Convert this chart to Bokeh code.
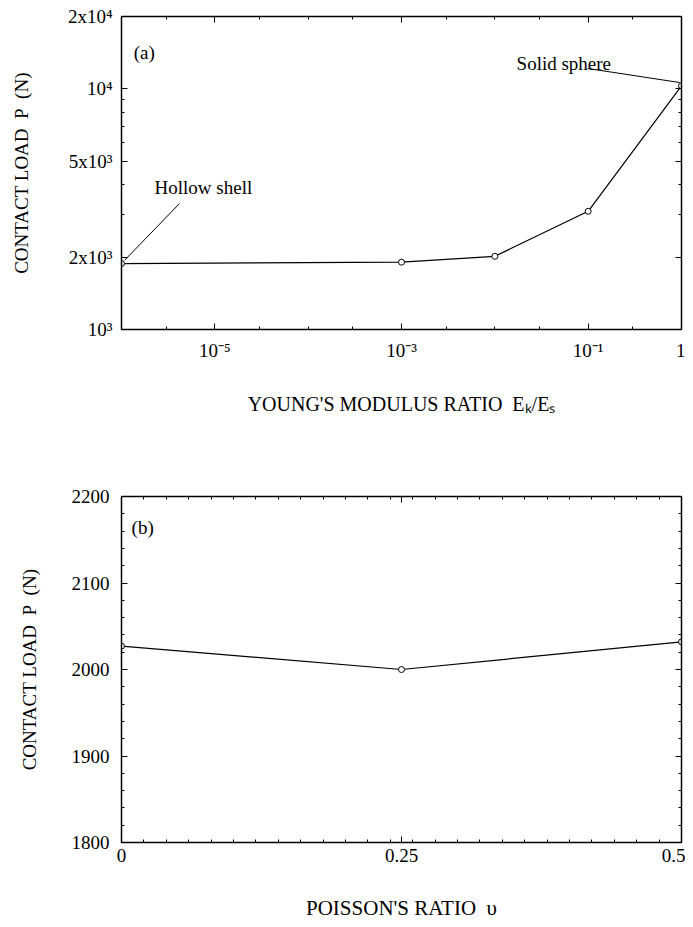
from bokeh.plotting import figure
from bokeh.models import FixedTicker, LogAxis, LinearAxis, Label, Range1d, ColumnDataSource
from bokeh.layouts import column
from bokeh.embed import file_html
from bokeh.resources import INLINE

FONT = "Liberation Serif"
NB = "\u00a0"

# ---- Panel (a) data ----
e_ratio = [1e-6, 1e-3, 1e-2, 1e-1, 1.0]
load_a = [1880, 1905, 2015, 3100, 10300]
xticks_a = [1e-5, 1e-3, 1e-1, 1.0]
xlabels_a = ["10⁻⁵", "10⁻³", "10⁻¹", "1"]
xminor_a = [1e-6, 1e-4, 1e-2, 3e-6, 3e-5, 3e-4, 3e-3, 3e-2, 3e-1]
yticks_a = [1e3, 2e3, 5e3, 1e4, 2e4]
ylabels_a = ["10³", "2x10³", "5x10³", "10⁴", "2x10⁴"]
yminor_a = [3e3, 4e3, 6e3, 7e3, 8e3, 9e3]

# ---- Panel (b) data ----
nu = [0.0, 0.25, 0.5]
load_b = [2027, 2000, 2032]
xticks_b = [0.0, 0.25, 0.5]
xlabels_b = ["0", "0.25", "0.5"]
yticks_b = [1800, 1900, 2000, 2100, 2200]
ylabels_b = ["1800", "1900", "2000", "2100", "2200"]


def style_axis(ax, labels=True):
    ax.axis_line_color = "black"
    ax.axis_line_width = 1.5
    ax.major_tick_line_color = "black"
    ax.minor_tick_line_color = "black"
    ax.major_tick_in = 6
    ax.major_tick_out = 0
    ax.minor_tick_in = 3
    ax.minor_tick_out = 0
    ax.major_label_text_font = FONT
    ax.axis_label_text_font = FONT
    ax.axis_label_text_font_style = "normal"
    ax.axis_label_text_color = "black"
    ax.axis_label_text_font_size = "19px"
    if labels:
        ax.major_label_text_font_size = "19px"
        ax.major_label_text_color = "black"
    else:
        ax.major_label_text_font_size = "2px"
        ax.major_label_text_color = None
        ax.major_label_standoff = 0


def txt(p, x, y, s, size="19px", align="left"):
    p.add_layout(Label(x=x, y=y, text=s, text_font=FONT, text_font_size=size,
                       text_color="black", text_baseline="middle", text_align=align))


# ---------------- Figure (a) ----------------
p1 = figure(frame_width=560, frame_height=313,
            x_axis_type="log", y_axis_type="log",
            x_range=Range1d(1e-6, 1.0), y_range=Range1d(1e3, 2e4),
            output_backend="svg", toolbar_location=None,
            min_border_left=121, min_border_top=16, min_border_right=4,
            min_border_bottom=86)
p1.grid.visible = False
p1.outline_line_color = None

p1.xaxis.ticker = FixedTicker(ticks=xticks_a, minor_ticks=xminor_a)
p1.yaxis.ticker = FixedTicker(ticks=yticks_a, minor_ticks=yminor_a)
p1.xaxis.major_label_overrides = {t: l for t, l in zip(xticks_a, xlabels_a)}
p1.yaxis.major_label_overrides = {t: l for t, l in zip(yticks_a, ylabels_a)}
p1.xaxis.axis_label = "YOUNG'S MODULUS RATIO" + NB + NB + "Eₖ/Eₛ"
p1.yaxis.axis_label = "CONTACT LOAD" + NB + NB + "P" + NB + NB + "(N)"
for ax in p1.xaxis + p1.yaxis:
    style_axis(ax)
p1.xaxis.axis_label_text_font_size = "20px"
p1.xaxis.major_label_standoff = 10
p1.xaxis.axis_label_standoff = 29
p1.yaxis.major_label_standoff = 9
p1.yaxis.axis_label_standoff = 33

ra = LogAxis(ticker=FixedTicker(ticks=yticks_a, minor_ticks=yminor_a))
style_axis(ra, labels=False)
p1.add_layout(ra, "right")
ta = LogAxis(ticker=FixedTicker(ticks=xticks_a, minor_ticks=xminor_a))
style_axis(ta, labels=False)
p1.add_layout(ta, "above")

src_a = ColumnDataSource(dict(x=e_ratio, y=load_a))
p1.line("x", "y", source=src_a, line_color="black", line_width=1.2)
p1.scatter("x", "y", source=src_a, size=6, marker="circle",
           fill_color="white", line_color="black", line_width=1)

txt(p1, 1.35e-6, 1.42e4, "(a)")
txt(p1, 2.26e-6, 3.89e3, "Hollow shell")
p1.segment(x0=[4.19e-6], y0=[3.34e3], x1=[1.08e-6], y1=[1.94e3],
           line_color="black", line_width=1)
txt(p1, 1.71e-2, 1.275e4, "Solid sphere")
p1.segment(x0=[0.0989], y0=[1.216e4], x1=[0.955], y1=[1.063e4],
           line_color="black", line_width=1)

# ---------------- Figure (b) ----------------
p2 = figure(frame_width=560, frame_height=346,
            x_range=Range1d(0, 0.5), y_range=Range1d(1800, 2200),
            output_backend="svg", toolbar_location=None,
            min_border_left=121, min_border_top=79, min_border_right=4,
            min_border_bottom=80)
p2.grid.visible = False
p2.outline_line_color = None

xminor_b = [i * 0.02 for i in range(26)]
yminor_b = [1800 + i * 20 for i in range(21)]
p2.xaxis.ticker = FixedTicker(ticks=xticks_b, minor_ticks=xminor_b)
p2.yaxis.ticker = FixedTicker(ticks=yticks_b, minor_ticks=yminor_b)
p2.xaxis.major_label_overrides = {t: l for t, l in zip(xticks_b, xlabels_b)}
p2.yaxis.major_label_overrides = {t: l for t, l in zip(yticks_b, ylabels_b)}
p2.xaxis.axis_label = "POISSON'S RATIO" + NB + NB + "υ"
p2.yaxis.axis_label = "CONTACT LOAD" + NB + NB + "P" + NB + NB + "(N)"
for ax in p2.xaxis + p2.yaxis:
    style_axis(ax)
p2.xaxis.axis_label_text_font_size = "21px"
p2.xaxis.major_label_standoff = 6
p2.xaxis.axis_label_standoff = 31
p2.yaxis.major_label_standoff = 12
p2.yaxis.axis_label_standoff = 29

rb = LinearAxis(ticker=FixedTicker(ticks=yticks_b, minor_ticks=yminor_b))
style_axis(rb, labels=False)
p2.add_layout(rb, "right")
tb = LinearAxis(ticker=FixedTicker(ticks=xticks_b, minor_ticks=xminor_b))
style_axis(tb, labels=False)
p2.add_layout(tb, "above")

src_b = ColumnDataSource(dict(x=nu, y=load_b))
p2.line("x", "y", source=src_b, line_color="black", line_width=1.2)
p2.scatter("x", "y", source=src_b, size=6, marker="circle",
           fill_color="white", line_color="black", line_width=1)

txt(p2, 0.009, 2164, "(b)")

layout = column(p1, p2, spacing=0)
open("out.html", "w").write(file_html(layout, INLINE))
